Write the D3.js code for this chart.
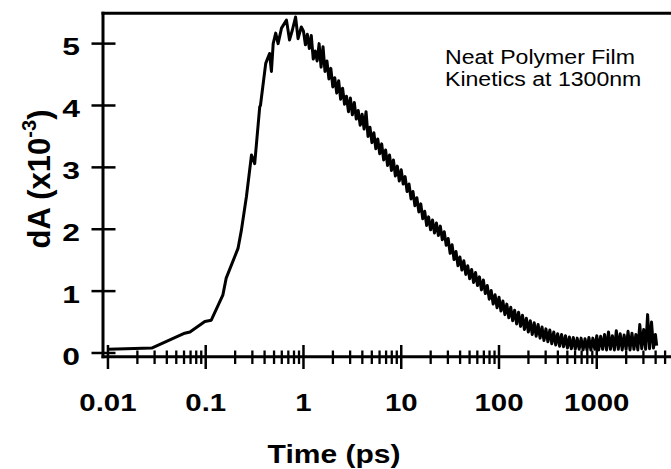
<!DOCTYPE html>
<html><head><meta charset="utf-8">
<script src="https://cdn.jsdelivr.net/npm/d3@7"></script>
<style>html,body{margin:0;padding:0;background:#fff;}svg{display:block;}</style>
</head><body>
<svg id="chart" width="671" height="469"></svg>
<script>
// ---- data ----
const xTickValues = [0.01, 0.1, 1, 10, 100, 1000];
const xTickLabels = ["0.01", "0.1", "1", "10", "100", "1000"];
const yTickValues = [0, 1, 2, 3, 4, 5];
const legendLines = ["Neat Polymer Film", "Kinetics at 1300nm"];

const riseTimes = [0.0101, 0.028, 0.061, 0.069, 0.098, 0.114, 0.15, 0.162, 0.214, 0.232, 0.261, 0.294, 0.317, 0.357, 0.363, 0.411, 0.45, 0.47, 0.49, 0.52, 0.55, 0.596, 0.67, 0.72, 0.77, 0.83, 0.88, 0.95];
const riseValues = [0.06, 0.08, 0.32, 0.34, 0.51, 0.53, 0.94, 1.21, 1.69, 1.99, 2.53, 3.20, 3.06, 3.98, 4.0, 4.68, 4.84, 4.55, 5.0, 5.17, 5.0, 5.25, 5.38, 5.06, 5.22, 5.43, 5.08, 5.27];

const decayTimes = [
 1.0, 1.047, 1.096, 1.148, 1.202, 1.259, 1.318, 1.380, 1.445, 1.514, 1.585, 1.660, 1.738, 1.820, 1.905, 1.995, 2.089, 2.188, 2.291, 2.399, 2.512, 2.630, 2.754, 2.884, 3.020, 3.162, 3.311, 3.467, 3.631, 3.802, 3.981, 4.169, 4.365, 4.571, 4.786, 5.012, 5.248, 5.495, 5.754, 6.026, 6.310, 6.607, 6.918, 7.244, 7.586, 7.943, 8.318, 8.710, 9.120, 9.550,
 10.0, 10.47, 10.96, 11.48, 12.02, 12.59, 13.18, 13.80, 14.45, 15.14, 15.85, 16.60, 17.38, 18.20, 19.05, 19.95, 20.89, 21.88, 22.91, 23.99, 25.12, 26.30, 27.54, 28.84, 30.20, 31.62, 33.11, 34.67, 36.31, 38.02, 39.81, 41.69, 43.65, 45.71, 47.86, 50.12, 52.48, 54.95, 57.54, 60.26, 63.10, 66.07, 69.18, 72.44, 75.86, 79.43, 83.18, 87.10, 91.20, 95.50,
 100, 104.7, 109.6, 114.8, 120.2, 125.9, 131.8, 138.0, 144.5, 151.4, 158.5, 166.0, 173.8, 182.0, 190.5, 199.5, 208.9, 218.8, 229.1, 239.9, 251.2, 263.0, 275.4, 288.4, 302.0, 316.2, 331.1, 346.7, 363.1, 380.2, 398.1, 416.9, 436.5, 457.1, 478.6, 501.2, 524.8, 549.5, 575.4, 602.6, 631.0, 660.7, 691.8, 724.4, 758.6, 794.3, 831.8, 871.0, 912.0, 955.0,
 1000, 1047, 1096, 1148, 1202, 1259, 1318, 1380, 1445, 1514, 1585, 1660, 1738, 1820, 1905, 1995, 2089, 2188, 2291, 2399, 2512, 2630, 2754, 2884, 3020, 3162, 3311, 3467, 3631, 3802, 3981, 4100];
const decayValues = [
 5.20, 4.98, 5.15, 4.92, 5.13, 4.75, 4.88, 4.72, 5.00, 4.62, 4.95, 4.55, 4.72, 4.43, 4.60, 4.30, 4.45, 4.20, 4.40, 4.10, 4.28, 4.02, 4.15, 3.90, 4.12, 3.85, 4.05, 3.78, 3.92, 3.68, 3.86, 3.62, 3.90, 3.50, 3.65, 3.40, 3.56, 3.30, 3.46, 3.22, 3.38, 3.12, 3.28, 3.03, 3.20, 2.95, 3.12, 2.86, 3.02, 2.78,
 2.96, 2.73, 2.85, 2.61, 2.73, 2.49, 2.61, 2.38, 2.51, 2.28, 2.41, 2.17, 2.29, 2.06, 2.20, 1.99, 2.15, 1.94, 2.10, 1.90, 2.05, 1.83, 1.96, 1.74, 1.85, 1.61, 1.75, 1.51, 1.64, 1.41, 1.55, 1.34, 1.49, 1.27, 1.41, 1.20, 1.35, 1.14, 1.30, 1.09, 1.23, 1.02, 1.18, 0.96, 1.09, 0.87, 1.01, 0.79, 0.94, 0.73,
 0.90, 0.68, 0.84, 0.62, 0.79, 0.57, 0.74, 0.52, 0.69, 0.47, 0.66, 0.43, 0.61, 0.38, 0.56, 0.34, 0.52, 0.30, 0.49, 0.27, 0.46, 0.24, 0.42, 0.20, 0.39, 0.18, 0.37, 0.15, 0.34, 0.13, 0.31, 0.11, 0.30, 0.10, 0.28, 0.08, 0.26, 0.07, 0.25, 0.06, 0.24, 0.06, 0.24, 0.05, 0.23, 0.05, 0.25, 0.05, 0.24, 0.06,
 0.28, 0.05, 0.27, 0.06, 0.30, 0.05, 0.34, 0.06, 0.28, 0.05, 0.36, 0.06, 0.31, 0.05, 0.29, 0.06, 0.35, 0.05, 0.32, 0.06, 0.30, 0.05, 0.46, 0.07, 0.38, 0.06, 0.62, 0.07, 0.50, 0.08, 0.30, 0.12];

// ---- layout ----
const svg = d3.select("#chart");
const x = d3.scaleLog().domain([0.0089, 5745]).range([103, 671]);
const y = d3.scaleLinear().domain([-0.06, 5.49]).range([356.7, 13.3]);

const data = riseTimes.map((t, i) => [t, riseValues[i]])
  .concat(decayTimes.map((t, i) => [t, decayValues[i]]));

// curve
svg.append("path")
  .datum(data)
  .attr("fill", "none")
  .attr("stroke", "#000")
  .attr("stroke-width", 3)
  .attr("stroke-linejoin", "round")
  .attr("d", d3.line().x(d => x(d[0])).y(d => y(d[1])));

// frame: left axis, top border, bottom axis
const x0 = x.range()[0], x1 = x.range()[1];
const yTop = y.range()[1], yBot = y.range()[0];
svg.append("line").attr("x1", x0).attr("x2", x0).attr("y1", yTop - 1.5).attr("y2", yBot + 1.5)
  .attr("stroke", "#000").attr("stroke-width", 3);
svg.append("line").attr("x1", x0 - 1.5).attr("x2", x1).attr("y1", yTop).attr("y2", yTop)
  .attr("stroke", "#000").attr("stroke-width", 3);
svg.append("line").attr("x1", x0 - 1.5).attr("x2", x1).attr("y1", yBot).attr("y2", yBot)
  .attr("stroke", "#000").attr("stroke-width", 3);

// y ticks
svg.selectAll(".ytick").data(yTickValues).enter().append("line")
  .attr("x1", x0 - 11.5).attr("x2", x0 + 12.5)
  .attr("y1", d => y(d)).attr("y2", d => y(d))
  .attr("stroke", "#000").attr("stroke-width", 2.5);

// x ticks (major + minor)
const minor = [];
[0.01, 0.1, 1, 10, 100, 1000].forEach(dec => {
  for (let k = 2; k <= 9; k++) { const v = dec * k; if (x(v) < x1) minor.push(v); }
});
svg.selectAll(".xmaj").data(xTickValues).enter().append("line")
  .attr("x1", d => x(d)).attr("x2", d => x(d))
  .attr("y1", 345).attr("y2", 369)
  .attr("stroke", "#000").attr("stroke-width", 2.5);
svg.selectAll(".xmin").data(minor).enter().append("line")
  .attr("x1", d => x(d)).attr("x2", d => x(d))
  .attr("y1", 350.5).attr("y2", 364)
  .attr("stroke", "#000").attr("stroke-width", 2.3);

function txt(px, py, str, fs, weight, sx, anchor) {
  return svg.append("text")
    .attr("transform", `translate(${px},${py}) scale(${sx},1)`)
    .attr("text-anchor", anchor)
    .attr("font-family", "'Liberation Sans', Arial, Helvetica, sans-serif")
    .attr("font-size", fs).attr("font-weight", weight)
    .attr("fill", "#000").text(str);
}

// y tick labels
yTickValues.forEach(v => txt(80, y(v) + 11.7, String(v), 24.5, "bold", 1.3, "end"));
// x tick labels
xTickValues.forEach((v, i) => txt(x(v), 411, xTickLabels[i], 24.5, "bold", 1.2, "middle"));
// x title
txt(334, 463, "Time (ps)", 25, "bold", 1.2, "middle");

// y title
const yt = svg.append("text")
  .attr("transform", "translate(50,179) rotate(-90)")
  .attr("text-anchor", "middle")
  .attr("font-family", "'Liberation Sans', Arial, Helvetica, sans-serif")
  .attr("font-size", 31).attr("font-weight", "bold").attr("fill", "#000");
yt.append("tspan").text("dA (x10");
yt.append("tspan").attr("font-size", 20).attr("dy", -14).text("-3");
yt.append("tspan").attr("dy", 14).text(")");

// legend
legendLines.forEach((s, i) => txt(445, 64.3 + i * 22, s, 21, "normal", 1.1, "start"));
</script>
</body></html>
